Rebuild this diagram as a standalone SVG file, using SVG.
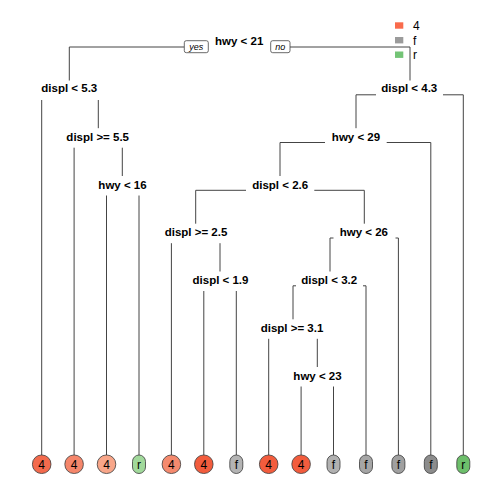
<svg xmlns="http://www.w3.org/2000/svg" width="504" height="504" viewBox="0 0 504 504">
<style>
.lab{font-family:"Liberation Sans",Arial,sans-serif;font-weight:bold;font-size:11.5px;text-anchor:middle;fill:#000}
.lt{font-family:"Liberation Sans",Arial,sans-serif;font-size:12px;text-anchor:middle;fill:#000}
.yn{font-family:"Liberation Sans",Arial,sans-serif;font-style:italic;font-size:9px;text-anchor:middle;fill:#000}
.leg{font-family:"Liberation Sans",Arial,sans-serif;font-size:12px;fill:#000}
.c path{fill:none;stroke:#444;stroke-width:1}
.lf{stroke:#3a3a3a;stroke-width:0.8}
.ynb{fill:#fff;stroke:#444;stroke-width:0.8}
</style>
<rect width="504" height="504" fill="#fff"/>
<g id="legend">
<rect x="395" y="22.3" width="8.3" height="6.4" fill="#F96B4C"/>
<rect x="395" y="37" width="8.3" height="6.4" fill="#9B9B9B"/>
<rect x="395" y="51.5" width="8.3" height="6.4" fill="#74C476"/>
<text class="leg" x="413" y="30">4</text>
<text class="leg" x="413" y="44.5">f</text>
<text class="leg" x="413" y="59">r</text>
</g>
<g class="c" id="connectors">
<path d="M69.3 47H184.3M290 47H410M69.3 47V80.5M410 47V80.5"/>
<path d="M41.7 100V455M98.3 100V128.2"/>
<path d="M74.1 147.7V455M122.3 147.7V176"/>
<path d="M106.5 195.5V455M139 195.5V455"/>
<path d="M356 94.8H376M443 94.8H463.3M356 94.8V128.2M463.3 94.8V455"/>
<path d="M280 142.5H325M386.7 142.5H430.8M280 142.5V176M430.8 142.5V455"/>
<path d="M195.7 190.3H246M314.3 190.3H364.3M195.7 190.3V223.7M364.3 190.3V223.7"/>
<path d="M171.4 243.2V455M220 243.2V271.5"/>
<path d="M203.8 291V455M236.3 291V455"/>
<path d="M330 238H333.5M395.5 238H398.4M330 238V271.5M398.4 238V455"/>
<path d="M293 285.8H296M363 285.8H366M293 285.8V319.3M366 285.8V455"/>
<path d="M268.7 338.8V455M317.3 338.8V367"/>
<path d="M301.1 386.5V455M333.5 386.5V455"/>
</g>
<g id="n_root">
<text class="lab" x="239.2" y="45.4">hwy &lt; 21</text>
<rect class="ynb" x="184.3" y="40.7" width="24" height="12" rx="2"/>
<text class="yn" x="196.3" y="50">yes</text>
<rect class="ynb" x="270.7" y="40.7" width="19.3" height="12" rx="2"/>
<text class="yn" x="280.3" y="50">no</text>
</g>
<g id="n2"><text class="lab" x="69.3" y="92.2">displ &lt; 5.3</text></g>
<g id="n3"><text class="lab" x="409.3" y="92.4">displ &lt; 4.3</text></g>
<g id="n4"><text class="lab" x="97.7" y="140.5">displ &gt;= 5.5</text></g>
<g id="n5"><text class="lab" x="356" y="140.5">hwy &lt; 29</text></g>
<g id="n6"><text class="lab" x="122.5" y="188.5">hwy &lt; 16</text></g>
<g id="n7"><text class="lab" x="280.2" y="188.5">displ &lt; 2.6</text></g>
<g id="n8"><text class="lab" x="196" y="236.3">displ &gt;= 2.5</text></g>
<g id="n9"><text class="lab" x="363.8" y="236.3">hwy &lt; 26</text></g>
<g id="n10"><text class="lab" x="220.5" y="284.3">displ &lt; 1.9</text></g>
<g id="n11"><text class="lab" x="329.2" y="284.3">displ &lt; 3.2</text></g>
<g id="n12"><text class="lab" x="292" y="332">displ &gt;= 3.1</text></g>
<g id="n13"><text class="lab" x="317.5" y="379.7">hwy &lt; 23</text></g>
<g id="leaf1"><rect class="lf" x="32.45" y="455" width="18.5" height="18.5" rx="9" fill="#F36A4D"/><text class="lt" x="41.7" y="468.5">4</text></g>
<g id="leaf2"><rect class="lf" x="64.85" y="455" width="18.5" height="18.5" rx="9" fill="#F5866B"/><text class="lt" x="74.1" y="468.5">4</text></g>
<g id="leaf3"><rect class="lf" x="97.25" y="455" width="18.5" height="18.5" rx="9" fill="#F8A689"/><text class="lt" x="106.5" y="468.5">4</text></g>
<g id="leaf4"><rect class="lf" x="132.5" y="455" width="13" height="18.5" rx="6.5" fill="#A1D99B"/><text class="lt" x="139" y="468.5">r</text></g>
<g id="leaf5"><rect class="lf" x="162.15" y="455" width="18.5" height="18.5" rx="9" fill="#F58A6E"/><text class="lt" x="171.4" y="468.5">4</text></g>
<g id="leaf6"><rect class="lf" x="194.55" y="455" width="18.5" height="18.5" rx="9" fill="#F25C3D"/><text class="lt" x="203.8" y="468.5">4</text></g>
<g id="leaf7"><rect class="lf" x="229.8" y="455" width="13" height="18.5" rx="6.5" fill="#B4B4B4"/><text class="lt" x="236.3" y="468.5">f</text></g>
<g id="leaf8"><rect class="lf" x="259.45" y="455" width="18.5" height="18.5" rx="9" fill="#F25C3D"/><text class="lt" x="268.7" y="468.5">4</text></g>
<g id="leaf9"><rect class="lf" x="291.85" y="455" width="18.5" height="18.5" rx="9" fill="#F25C3D"/><text class="lt" x="301.1" y="468.5">4</text></g>
<g id="leaf10"><rect class="lf" x="327" y="455" width="13" height="18.5" rx="6.5" fill="#B1B1B1"/><text class="lt" x="333.5" y="468.5">f</text></g>
<g id="leaf11"><rect class="lf" x="359.5" y="455" width="13" height="18.5" rx="6.5" fill="#A5A5A5"/><text class="lt" x="366" y="468.5">f</text></g>
<g id="leaf12"><rect class="lf" x="391.9" y="455" width="13" height="18.5" rx="6.5" fill="#A0A0A0"/><text class="lt" x="398.4" y="468.5">f</text></g>
<g id="leaf13"><rect class="lf" x="424.3" y="455" width="13" height="18.5" rx="6.5" fill="#8C8C8C"/><text class="lt" x="430.8" y="468.5">f</text></g>
<g id="leaf14"><rect class="lf" x="456.8" y="455" width="13" height="18.5" rx="6.5" fill="#6DBF6B"/><text class="lt" x="463.3" y="468.5">r</text></g>
</svg>
